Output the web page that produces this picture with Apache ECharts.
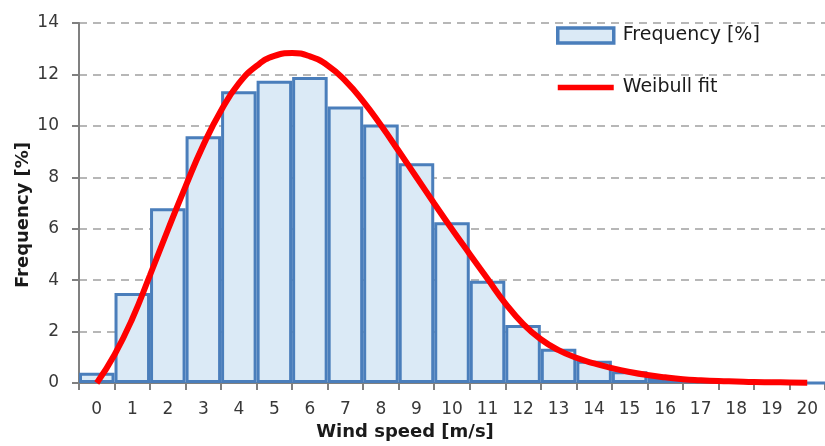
<!DOCTYPE html>
<html>
<head>
<meta charset="utf-8">
<script src="https://cdn.jsdelivr.net/npm/echarts@6/dist/echarts.min.js"></script>
<style>
html,body{margin:0;padding:0;background:#fff;}
#chart{width:825px;height:446px;}
</style>
</head>
<body>
<div id="chart"></div>
<script>
// ---- data ----
var windSpeeds = ['0','1','2','3','4','5','6','7','8','9','10','11','12','13','14','15','16','17','18','19','20'];
var frequency = [0.4, 3.5, 6.8, 9.6, 11.35, 11.75, 11.9, 10.75, 10.05, 8.55, 6.25, 3.98, 2.26, 1.33, 0.87, 0.46, 0.22, 0.1, 0.05, 0.03, 0.0];
var fitX = [0, 0.5, 1, 1.5, 2, 2.5, 3, 3.5, 4, 4.5, 5, 5.5, 6, 6.5, 7, 7.5, 8, 8.5, 9, 9.5, 10, 10.5, 11, 11.5, 12, 12.5, 13, 13.5, 14, 14.5, 15, 15.5, 16, 16.5, 17, 17.5, 18, 18.5, 19, 19.5, 20];
var fitY = [0, 1.1, 2.5, 4.2, 5.95, 7.65, 9.25, 10.6, 11.65, 12.33, 12.72, 12.83, 12.7, 12.35, 11.75, 10.95, 10.02, 9.02, 8.0, 6.98, 5.98, 5.01, 4.05, 3.1, 2.3, 1.7, 1.28, 0.98, 0.76, 0.58, 0.43, 0.31, 0.22, 0.15, 0.11, 0.08, 0.06, 0.04, 0.03, 0.02, 0.01];
var yTicks = {min: 0, max: 14, step: 2};
var xTitle = 'Wind speed [m/s]';
var yTitle = 'Frequency [%]';
var barName = 'Frequency [%]';
var lineName = 'Weibull fit';

var fitData = fitX.map(function (x, i) { return [x, fitY[i]]; });

var font = 'DejaVu Sans';
var chart = echarts.init(document.getElementById('chart'), null, {renderer: 'canvas'});
chart.setOption({
  backgroundColor: '#ffffff',
  animation: false,
  grid: {left: 79, right: -6, top: 23, bottom: 60, containLabel: false},
  legend: {
    orient: 'vertical',
    left: 551,
    top: 21,
    itemWidth: 56,
    itemHeight: 15,
    itemGap: 33,
    textStyle: {fontFamily: font, fontSize: 19, color: '#1a1a1a', padding: [0, 0, 0, 4]},
    data: [
      {name: barName, icon: 'rect', itemStyle: {borderWidth: 3.5}},
      {name: lineName, icon: 'path://M0,0 H62 V6 H0 Z'}
    ]
  },
  xAxis: [{
    type: 'category',
    data: windSpeeds,
    boundaryGap: true,
    name: xTitle,
    nameLocation: 'middle',
    nameGap: 40,
    nameMoveOverlap: false,
    nameTextStyle: {fontFamily: font, fontSize: 18, fontWeight: 'bold', color: '#1a1a1a', padding: [0, 94, 0, 0]},
    axisLine: {show: true, onZero: false, lineStyle: {color: '#808080', width: 2}},
    axisTick: {show: true, length: 7, alignWithLabel: false, lineStyle: {color: '#808080', width: 2}},
    axisLabel: {interval: 0, margin: 18, fontFamily: font, fontSize: 17, color: '#383838'},
    splitLine: {show: false}
  }, {
    type: 'value',
    min: -0.5,
    max: 20.5,
    show: false
  }],
  yAxis: {
    type: 'value',
    min: yTicks.min,
    max: yTicks.max,
    interval: yTicks.step,
    name: yTitle,
    nameLocation: 'middle',
    nameGap: 47,
    nameMoveOverlap: false,
    nameTextStyle: {fontFamily: font, fontSize: 18, fontWeight: 'bold', color: '#1a1a1a', padding: [0, 24, 0, 0]},
    axisLine: {show: true, onZero: false, lineStyle: {color: '#808080', width: 2}},
    axisTick: {show: true, length: 7, lineStyle: {color: '#808080', width: 2}},
    axisLabel: {margin: 20, fontFamily: font, fontSize: 17, color: '#383838'},
    splitLine: {show: true, lineStyle: {color: '#a0a0a0', width: 1.5, type: [8, 6]}}
  },
  series: [{
    name: barName,
    type: 'bar',
    xAxisIndex: 0,
    data: frequency,
    barCategoryGap: '0%',
    itemStyle: {color: '#dbeaf6', borderColor: '#4a7ebb', borderWidth: 3},
    z: 2
  }, {
    name: lineName,
    type: 'line',
    xAxisIndex: 1,
    data: fitData,
    smooth: true,
    symbol: 'none',
    lineStyle: {color: '#ff0000', width: 6},
    itemStyle: {color: '#ff0000'},
    z: 3
  }]
});
</script>
</body>
</html>
